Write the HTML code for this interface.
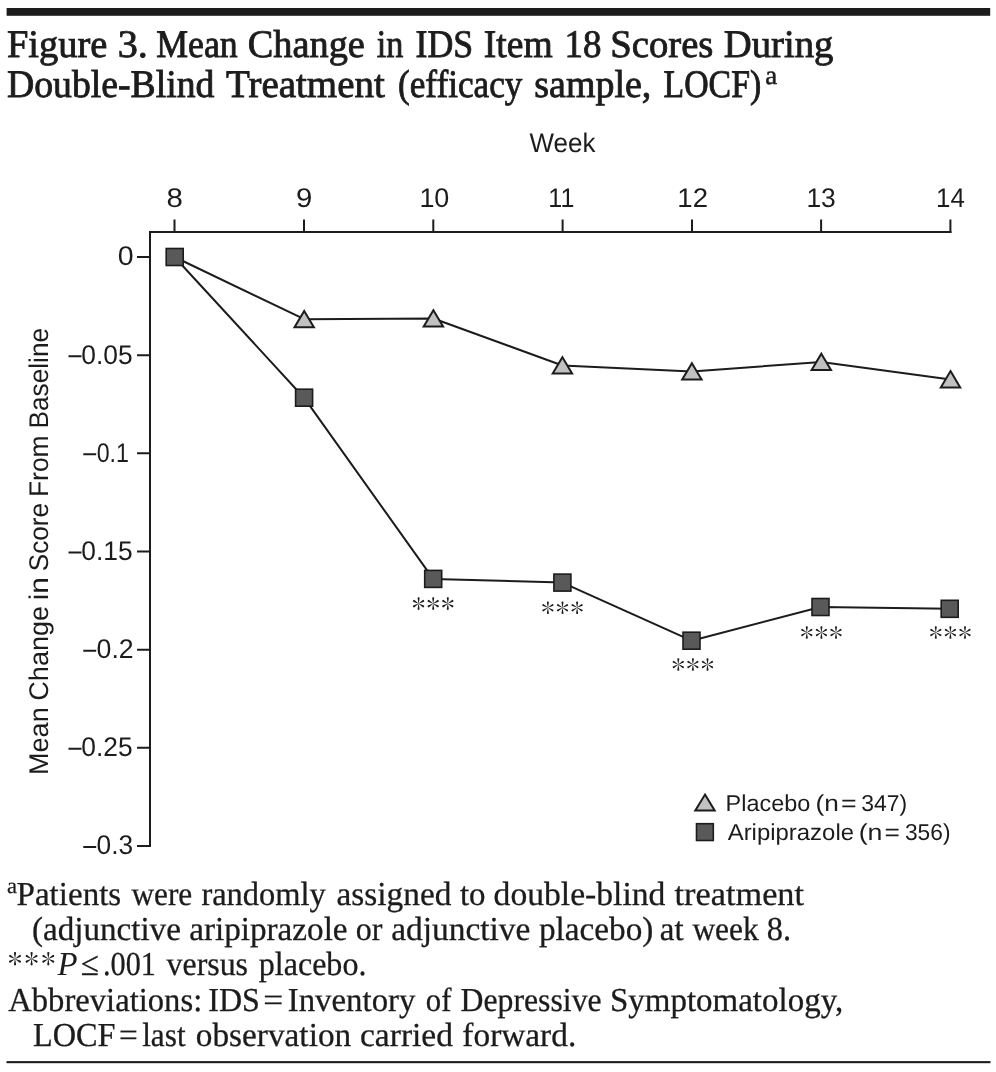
<!DOCTYPE html>
<html>
<head>
<meta charset="utf-8">
<title>Figure 3</title>
<style>
  html, body { margin: 0; padding: 0; background: #ffffff; }
  body { width: 996px; height: 1072px; overflow: hidden; position: relative; }
  svg { position: absolute; left: 0; top: 0; display: block; will-change: transform; }
  text { text-rendering: geometricPrecision; -webkit-font-smoothing: antialiased; }
  .serif { font-family: "Liberation Serif", serif; fill: #1c1c1c; }
  .sans { font-family: "Liberation Sans", sans-serif; fill: #1c1c1c; }
  .title { font-size: 39px; stroke: #1c1c1c; stroke-width: 0.85px; }
  .foot { font-size: 33.5px; stroke: #1c1c1c; stroke-width: 0.3px; }
  .ax { font-size: 27px; }
  .axt { font-size: 27px; }
  .leg { font-size: 23px; }
  .axis { stroke: #1c1c1c; stroke-width: 2; fill: none; stroke-linecap: butt; }
  .ln { stroke: #1c1c1c; stroke-width: 2; fill: none; stroke-linejoin: round; }
  .sq { fill: #595959; stroke: #1c1c1c; stroke-width: 1.6; }
  .tri { fill: #c1c1c1; stroke: #1c1c1c; stroke-width: 2; stroke-linejoin: miter; }
</style>
</head>
<body>
<svg width="996" height="1072" viewBox="0 0 996 1072">
  <defs>
    <path id="arm" d="M0 0.2 L-0.28 -1.2 L-0.95 -5.0 A1.0 1.0 0 1 1 0.95 -5.0 L0.28 -1.2 Z"/>
    <g id="ast" fill="#1c1c1c">
      <use href="#arm"/>
      <use href="#arm" transform="rotate(60)"/>
      <use href="#arm" transform="rotate(120)"/>
      <use href="#arm" transform="rotate(180)"/>
      <use href="#arm" transform="rotate(240)"/>
      <use href="#arm" transform="rotate(300)"/>
    </g>
    <g id="ast3">
      <use href="#ast" x="-14.6"/>
      <use href="#ast"/>
      <use href="#ast" x="14.6"/>
    </g>
  </defs>
  <!-- top and bottom rules -->
  <rect x="6.6" y="8" width="983.6" height="7.8" fill="#1c1c1c"/>
  <rect x="6.5" y="1061.1" width="984" height="2.1" fill="#1c1c1c"/>

  <!-- title -->
  <!--TITLE-WORDS-->
  <text class="serif title" x="6.99" y="57.0" textLength="100.42" lengthAdjust="spacingAndGlyphs">Figure</text>
  <text class="serif title" x="117.65" y="57.0" textLength="30.22" lengthAdjust="spacingAndGlyphs">3.</text>
  <text class="serif title" x="156.19" y="57.0" textLength="81.62" lengthAdjust="spacingAndGlyphs">Mean</text>
  <text class="serif title" x="247.78" y="57.0" textLength="117.04" lengthAdjust="spacingAndGlyphs">Change</text>
  <text class="serif title" x="376.80" y="57.0" textLength="26.62" lengthAdjust="spacingAndGlyphs">in</text>
  <text class="serif title" x="415.56" y="57.0" textLength="57.71" lengthAdjust="spacingAndGlyphs">IDS</text>
  <text class="serif title" x="483.79" y="57.0" textLength="68.82" lengthAdjust="spacingAndGlyphs">Item</text>
  <text class="serif title" x="564.54" y="57.0" textLength="36.97" lengthAdjust="spacingAndGlyphs">18</text>
  <text class="serif title" x="610.31" y="57.0" textLength="103.14" lengthAdjust="spacingAndGlyphs">Scores</text>
  <text class="serif title" x="723.80" y="57.0" textLength="109.61" lengthAdjust="spacingAndGlyphs">During</text>
  <text class="serif title" x="7.00" y="97.0" textLength="207.40" lengthAdjust="spacingAndGlyphs">Double-Blind</text>
  <text class="serif title" x="226.00" y="97.0" textLength="158.80" lengthAdjust="spacingAndGlyphs">Treatment</text>
  <text class="serif title" x="398.00" y="97.0" textLength="124.40" lengthAdjust="spacingAndGlyphs">(efficacy</text>
  <text class="serif title" x="534.36" y="97.0" textLength="116.88" lengthAdjust="spacingAndGlyphs">sample,</text>
  <text class="serif title" x="663.58" y="97.0" textLength="97.64" lengthAdjust="spacingAndGlyphs">LOCF)</text>
  <!--/TITLE-WORDS-->
  <text class="serif" x="765.3" y="84.4" font-size="26.5" stroke="#1c1c1c" stroke-width="0.5" textLength="11.9" lengthAdjust="spacingAndGlyphs">a</text>

  <!-- axes -->
  <path class="axis" d="M150 847 V232 H951.4"/>
  <!-- x ticks -->
  <path class="axis" d="M174.5 232 V219.5 M304 232 V219.5 M433.3 232 V219.5 M562.6 232 V219.5 M692 232 V219.5 M821.1 232 V219.5 M950.4 233 V219.5"/>
  <!-- y ticks -->
  <path class="axis" d="M150 257 H137 M150 355.2 H137 M150 453.3 H137 M150 551.5 H137 M150 649.7 H137 M150 747.8 H137 M150 846 H137"/>

  <!-- x axis title + labels -->
  <!-- y labels -->
  <!--AX-WORDS-->
  <text class="sans ax" x="529.59" y="152.3" textLength="65.82" lengthAdjust="spacingAndGlyphs">Week</text>
  <text class="sans ax" x="166.62" y="207.3" textLength="16.36" lengthAdjust="spacingAndGlyphs">8</text>
  <text class="sans ax" x="296.14" y="207.3" textLength="16.36" lengthAdjust="spacingAndGlyphs">9</text>
  <text class="sans ax" x="419.40" y="207.3" textLength="29.95" lengthAdjust="spacingAndGlyphs">10</text>
  <text class="sans ax" x="548.36" y="207.3" textLength="26.02" lengthAdjust="spacingAndGlyphs">11</text>
  <text class="sans ax" x="677.38" y="207.3" textLength="30.63" lengthAdjust="spacingAndGlyphs">12</text>
  <text class="sans ax" x="806.40" y="207.3" textLength="29.43" lengthAdjust="spacingAndGlyphs">13</text>
  <text class="sans ax" x="936.01" y="207.3" textLength="28.82" lengthAdjust="spacingAndGlyphs">14</text>
  <text class="sans ax" x="117.81" y="265.4" textLength="15.89" lengthAdjust="spacingAndGlyphs">0</text>
  <text class="sans ax" x="81.32" y="363.6" textLength="51.35" lengthAdjust="spacingAndGlyphs">0.05</text>
  <text class="sans ax" x="96.64" y="461.7" textLength="32.27" lengthAdjust="spacingAndGlyphs">0.1</text>
  <text class="sans ax" x="81.32" y="559.9" textLength="51.35" lengthAdjust="spacingAndGlyphs">0.15</text>
  <text class="sans ax" x="96.61" y="658.1" textLength="37.09" lengthAdjust="spacingAndGlyphs">0.2</text>
  <text class="sans ax" x="81.32" y="756.2" textLength="51.35" lengthAdjust="spacingAndGlyphs">0.25</text>
  <text class="sans ax" x="96.60" y="854.4" textLength="36.54" lengthAdjust="spacingAndGlyphs">0.3</text>
  <!--/AX-WORDS-->
  <path d="M68.5 356.2 H81.5 M83.3 454.3 H96.2 M68.5 552.5 H81.5 M83.3 650.7 H96.2 M68.5 748.8 H81.5 M83.3 847.0 H96.2" stroke="#1c1c1c" stroke-width="1.9" fill="none"/>
  <!-- y axis title -->
  <!--ROT-WORDS-->
  <text class="sans ax" transform="translate(48.3 800) rotate(-90)" x="25.06" y="0" textLength="67.65" lengthAdjust="spacingAndGlyphs">Mean</text>
  <text class="sans ax" transform="translate(48.3 800) rotate(-90)" x="99.35" y="0" textLength="94.70" lengthAdjust="spacingAndGlyphs">Change</text>
  <text class="sans ax" transform="translate(48.3 800) rotate(-90)" x="199.67" y="0" textLength="23.28" lengthAdjust="spacingAndGlyphs">in</text>
  <text class="sans ax" transform="translate(48.3 800) rotate(-90)" x="228.73" y="0" textLength="68.31" lengthAdjust="spacingAndGlyphs">Score</text>
  <text class="sans ax" transform="translate(48.3 800) rotate(-90)" x="302.89" y="0" textLength="61.81" lengthAdjust="spacingAndGlyphs">From</text>
  <text class="sans ax" transform="translate(48.3 800) rotate(-90)" x="371.52" y="0" textLength="100.51" lengthAdjust="spacingAndGlyphs">Baseline</text>
  <!--/ROT-WORDS-->

  <!-- series lines -->
  <polyline class="ln" points="174.5,257 304.2,319.2 433.4,318.5 562.4,365.5 691.9,371.5 821.3,362 950.5,379.4"/>
  <polyline class="ln" points="174.5,257 304,397.7 433.2,578.9 562.4,582.6 691.5,640.7 820.5,607 949.7,608.8"/>

  <!-- placebo triangles -->
  <g class="tri">
    <path d="M304.2 310.9 L313.90 327.3 H294.50 Z"/>
    <path d="M433.4 310.2 L443.10 326.6 H423.70 Z"/>
    <path d="M562.4 357.2 L572.10 373.6 H552.70 Z"/>
    <path d="M691.9 363.2 L701.60 379.6 H682.20 Z"/>
    <path d="M821.3 353.7 L831.00 370.1 H811.60 Z"/>
    <path d="M950.5 371.1 L960.20 387.5 H940.80 Z"/>
  </g>
  <!-- aripiprazole squares -->
  <g class="sq">
    <rect x="166.2" y="248.5" width="17" height="17"/>
    <rect x="295.6" y="389.2" width="17" height="17"/>
    <rect x="424.7" y="570.4" width="17" height="17"/>
    <rect x="553.9" y="574.1" width="17" height="17"/>
    <rect x="683" y="632.2" width="17" height="17"/>
    <rect x="812" y="598.5" width="17" height="17"/>
    <rect x="941.2" y="600.3" width="17" height="17"/>
  </g>

  <!-- asterisks -->
  <use href="#ast3" x="433.2" y="603.6"/>
  <use href="#ast3" x="562.5" y="607.7"/>
  <use href="#ast3" x="692.9" y="664.5"/>
  <use href="#ast3" x="821.4" y="632.5"/>
  <use href="#ast3" x="950.4" y="632.5"/>

  <!-- legend -->
  <path class="tri" d="M705 794.6 L714.7 810.6 H695.3 Z"/>
  <rect class="sq" x="696.5" y="823.7" width="16.8" height="16.8"/>
  <!--LEG-WORDS-->
  <text class="sans leg" x="725.60" y="810.6" textLength="84.65" lengthAdjust="spacingAndGlyphs">Placebo</text>
  <text class="sans leg" x="815.43" y="810.6" textLength="23.32" lengthAdjust="spacingAndGlyphs">(n</text>
  <text class="sans leg" x="841.04" y="810.6" textLength="15.63" lengthAdjust="spacingAndGlyphs">=</text>
  <text class="sans leg" x="861.15" y="810.6" textLength="45.95" lengthAdjust="spacingAndGlyphs">347)</text>
  <text class="sans leg" x="727.70" y="839.9" textLength="126.33" lengthAdjust="spacingAndGlyphs">Aripiprazole</text>
  <text class="sans leg" x="858.67" y="839.9" textLength="23.81" lengthAdjust="spacingAndGlyphs">(n</text>
  <text class="sans leg" x="884.58" y="839.9" textLength="15.36" lengthAdjust="spacingAndGlyphs">=</text>
  <text class="sans leg" x="904.94" y="839.9" textLength="45.53" lengthAdjust="spacingAndGlyphs">356)</text>
  <!--/LEG-WORDS-->

  <!-- footnotes -->
  <text class="serif" x="6.9" y="893.2" font-size="22" stroke="#1c1c1c" stroke-width="0.25" textLength="10" lengthAdjust="spacingAndGlyphs">a</text>
  <g transform="translate(31.6 958.8) scale(1.06)"><use href="#ast" x="-15.65"/><use href="#ast"/><use href="#ast" x="15.75"/></g>
  <!--FOOT-WORDS-->
  <text class="serif foot" x="16.59" y="904.7" textLength="104.64" lengthAdjust="spacingAndGlyphs">Patients</text>
  <text class="serif foot" x="131.38" y="904.7" textLength="60.85" lengthAdjust="spacingAndGlyphs">were</text>
  <text class="serif foot" x="201.39" y="904.7" textLength="124.41" lengthAdjust="spacingAndGlyphs">randomly</text>
  <text class="serif foot" x="336.59" y="904.7" textLength="114.81" lengthAdjust="spacingAndGlyphs">assigned</text>
  <text class="serif foot" x="459.92" y="904.7" textLength="25.62" lengthAdjust="spacingAndGlyphs">to</text>
  <text class="serif foot" x="493.59" y="904.7" textLength="171.81" lengthAdjust="spacingAndGlyphs">double-blind</text>
  <text class="serif foot" x="674.60" y="904.7" textLength="129.41" lengthAdjust="spacingAndGlyphs">treatment</text>
  <text class="serif foot" x="31.97" y="940.3" textLength="148.85" lengthAdjust="spacingAndGlyphs">(adjunctive</text>
  <text class="serif foot" x="189.19" y="940.3" textLength="158.42" lengthAdjust="spacingAndGlyphs">aripiprazole</text>
  <text class="serif foot" x="355.76" y="940.3" textLength="26.65" lengthAdjust="spacingAndGlyphs">or</text>
  <text class="serif foot" x="391.19" y="940.3" textLength="139.22" lengthAdjust="spacingAndGlyphs">adjunctive</text>
  <text class="serif foot" x="539.00" y="940.3" textLength="114.42" lengthAdjust="spacingAndGlyphs">placebo)</text>
  <text class="serif foot" x="659.74" y="940.3" textLength="23.86" lengthAdjust="spacingAndGlyphs">at</text>
  <text class="serif foot" x="692.39" y="940.3" textLength="66.41" lengthAdjust="spacingAndGlyphs">week</text>
  <text class="serif foot" x="766.83" y="940.3" textLength="24.29" lengthAdjust="spacingAndGlyphs">8.</text>
  <text class="serif foot" x="57.40" y="975.4" textLength="20.06" lengthAdjust="spacingAndGlyphs" font-style="italic" style="stroke-width:0">P</text>
  <text class="serif foot" x="80.67" y="975.4" textLength="18.09" lengthAdjust="spacingAndGlyphs">≤</text>
  <text class="serif foot" x="103.06" y="975.4" textLength="52.84" lengthAdjust="spacingAndGlyphs">.001</text>
  <text class="serif foot" x="166.59" y="975.4" textLength="81.42" lengthAdjust="spacingAndGlyphs">versus</text>
  <text class="serif foot" x="258.79" y="975.4" textLength="107.64" lengthAdjust="spacingAndGlyphs">placebo.</text>
  <text class="serif foot" x="8.20" y="1010.8" textLength="194.04" lengthAdjust="spacingAndGlyphs">Abbreviations:</text>
  <text class="serif foot" x="208.34" y="1010.8" textLength="51.58" lengthAdjust="spacingAndGlyphs">IDS</text>
  <text class="serif foot" x="263.21" y="1010.8" textLength="19.96" lengthAdjust="spacingAndGlyphs">=</text>
  <text class="serif foot" x="287.79" y="1010.8" textLength="127.62" lengthAdjust="spacingAndGlyphs">Inventory</text>
  <text class="serif foot" x="425.78" y="1010.8" textLength="25.62" lengthAdjust="spacingAndGlyphs">of</text>
  <text class="serif foot" x="460.59" y="1010.8" textLength="141.02" lengthAdjust="spacingAndGlyphs">Depressive</text>
  <text class="serif foot" x="609.97" y="1010.8" textLength="233.26" lengthAdjust="spacingAndGlyphs">Symptomatology,</text>
  <text class="serif foot" x="32.99" y="1046.2" textLength="82.44" lengthAdjust="spacingAndGlyphs">LOCF</text>
  <text class="serif foot" x="119.08" y="1046.2" textLength="18.78" lengthAdjust="spacingAndGlyphs">=</text>
  <text class="serif foot" x="142.20" y="1046.2" textLength="43.41" lengthAdjust="spacingAndGlyphs">last</text>
  <text class="serif foot" x="195.79" y="1046.2" textLength="155.41" lengthAdjust="spacingAndGlyphs">observation</text>
  <text class="serif foot" x="359.97" y="1046.2" textLength="93.03" lengthAdjust="spacingAndGlyphs">carried</text>
  <text class="serif foot" x="462.37" y="1046.2" textLength="113.88" lengthAdjust="spacingAndGlyphs">forward.</text>
  <!--/FOOT-WORDS-->
</svg>
</body>
</html>
